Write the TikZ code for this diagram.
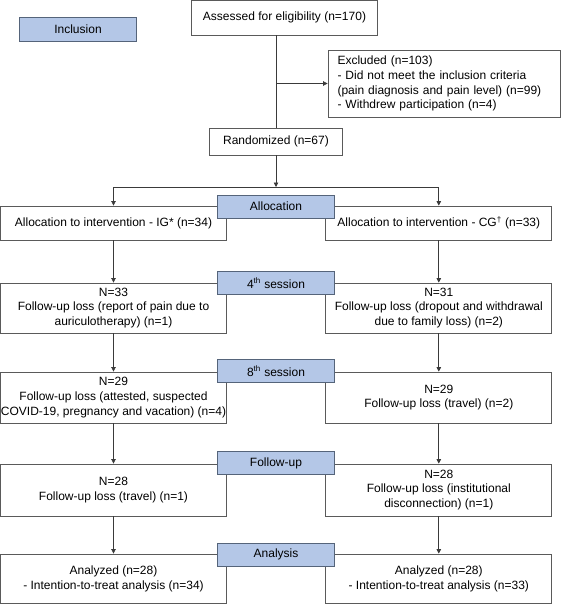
\documentclass[tikz,border=0pt]{standalone}
\usepackage{fontspec}
\setmainfont{Liberation Sans}
\usetikzlibrary{arrows.meta}
\definecolor{lblfill}{HTML}{B4C7E7}
\definecolor{lbldraw}{HTML}{55647A}
\definecolor{boxdraw}{HTML}{5A5A5A}
\definecolor{linec}{HTML}{3A3A3A}
\begin{document}
\begin{tikzpicture}[x=1pt,y=-1pt,
  txt/.style={font=\fontsize{12}{14.8}\selectfont, text=black},
  box/.style={txt, draw=boxdraw, line width=0.8pt, fill=white, inner sep=0pt, align=center},
  colbox/.style={box, minimum width=226pt},
  lbl/.style={txt, draw=lbldraw, line width=0.8pt, fill=lblfill, inner sep=0pt, minimum width=117pt, minimum height=23pt},
  conn/.style={draw=linec, line width=0.7pt},
  arr/.style={conn, -{Triangle[length=4.5pt,width=4.5pt]}}
]
\useasboundingbox (0,0) rectangle (561,604);

% top part
\node[lbl, minimum width=117.4pt, minimum height=24pt] (incl) at (78,29) {Inclusion};
\node[box, minimum width=186pt, minimum height=34.5pt] (assess) at (284.5,17.75) {Assessed for eligibility (n=170)};
\node[box, align=left, text width=213pt, inner xsep=9.5pt, minimum height=67pt] (excl) at (444,83.5)
  {Excluded (n=103)\\- Did not meet the inclusion criteria\\(pain diagnosis and pain level) (n=99)\\- Withdrew participation (n=4)};
\node[box, minimum width=133.5pt, minimum height=27pt] (rand) at (276,141.5) {Randomized (n=67)};

% columns
\node[colbox, minimum height=34pt] (allocL) at (113.5,223) {Allocation to intervention - IG* (n=34)};
\node[colbox, minimum height=34pt] (allocR) at (438.8,223) {Allocation to intervention - CG\textsuperscript{\textdagger} (n=33)};

\node[colbox, minimum height=50pt] (s4L) at (113.5,308) {N=33\\Follow-up loss (report of pain due to\\auriculotherapy) (n=1)};
\node[colbox, minimum height=50pt] (s4R) at (438.8,308) {N=31\\Follow-up loss (dropout and withdrawal\\due to family loss) (n=2)};

\node[colbox, minimum height=51pt] (s8L) at (113.5,397.5) {N=29\\Follow-up loss (attested, suspected\\COVID-19, pregnancy and vacation) (n=4)};
\node[colbox, minimum height=51pt] (s8R) at (438.8,397.5) {N=29\\Follow-up loss (travel) (n=2)};

\node[colbox, minimum height=52pt] (fuL) at (113.5,490) {N=28\\Follow-up loss (travel) (n=1)};
\node[colbox, minimum height=52pt] (fuR) at (438.8,490) {N=28\\Follow-up loss (institutional\\disconnection) (n=1)};

\node[colbox, minimum height=49pt] (anL) at (113.5,578.5) {Analyzed (n=28)\\- Intention-to-treat analysis (n=34)};
\node[colbox, minimum height=49pt] (anR) at (438.8,578.5) {Analyzed (n=28)\\- Intention-to-treat analysis (n=33)};

% phase labels
\node[lbl] (lalloc) at (276,206.5) {Allocation};
\node[lbl] (ls4) at (276,283) {4\textsuperscript{th} session};
\node[lbl] (ls8) at (276,371) {8\textsuperscript{th} session};
\node[lbl] (lfu) at (276,463) {Follow-up};
\node[lbl] (lan) at (276,554.5) {Analysis};

% connectors
\coordinate (br) at (rand.north |- excl.west);
\coordinate (sp) at (276,187);
\coordinate (spL) at (allocL.north |- sp);
\coordinate (spR) at (allocR.north |- sp);
\draw[conn] (assess.south -| rand.north) -- (rand.north);
\draw[arr] (br) -- (excl.west);
\draw[arr] (rand.south) -- (sp);
\draw[conn] (spL) -- (spR);
\draw[arr] (spL) -- (allocL.north);
\draw[arr] (spR) -- (allocR.north);
\draw[arr] (allocL) -- (s4L);
\draw[arr] (allocR) -- (s4R);
\draw[arr] (s4L) -- (s8L);
\draw[arr] (s4R) -- (s8R);
\draw[arr] (s8L) -- (fuL);
\draw[arr] (s8R) -- (fuR);
\draw[arr] (fuL) -- (anL);
\draw[arr] (fuR) -- (anR);
\end{tikzpicture}
\end{document}
